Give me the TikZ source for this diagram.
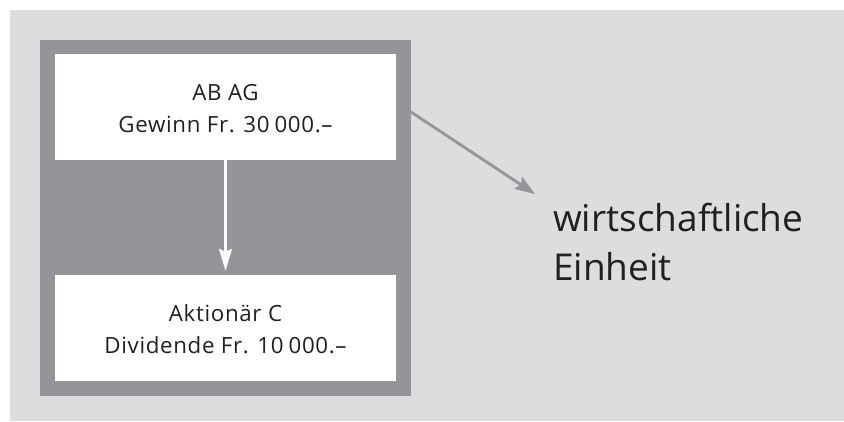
\documentclass[tikz,border=0pt]{standalone}
\usepackage{fontspec}
\setmainfont{Open Sans}
\newfontfamily\boxfont[LetterSpace=3]{Open Sans}
\usetikzlibrary{arrows.meta}
\definecolor{bglight}{HTML}{DCDDDF}
\definecolor{framegray}{HTML}{939598}
\definecolor{txt}{HTML}{231F20}
\newcommand{\thinsep}{\hspace{0.22em}}
\tikzset{
  whitebox/.style={fill=white, draw=none, minimum width=341pt, minimum height=106pt, inner sep=0pt, align=center, text=txt,
    text height=50.5pt, text depth=0pt,
    font=\boxfont\fontsize{22.3}{31.6}\selectfont},
  whitearrow/.style={draw=white, line width=2.2pt, -{Stealth[length=22pt,width=13pt,inset=3pt]}, shorten >=4pt},
  grayarrow/.style={draw=framegray, line width=2.8pt, -{Stealth[length=20pt,width=14pt,inset=3pt]}},
  bigtext/.style={align=left, text=txt, inner sep=0pt, font=\fontsize{37}{48.3}\selectfont}
}
\begin{document}
\begin{tikzpicture}[x=1pt,y=-1pt]
\useasboundingbox (0,0) rectangle (844,421);
\fill[bglight] (10,10) rectangle (844,421);
\node[fill=framegray, minimum width=371pt, minimum height=356pt, inner sep=0pt] (frame) at (225.5,218) {};
\node[whitebox] (top) at (225.5,107) {AB AG\\Gewinn Fr. 30\thinsep000.–};
\node[whitebox] (bottom) at (225.5,328) {Aktionär C\\Dividende Fr. 10\thinsep000.–};
\draw[whitearrow] (top.south) -- (bottom.north);
\coordinate (start) at (411,112);
\coordinate (tip) at (535,194);
\draw[grayarrow] (start) -- (tip);
\node[bigtext, anchor=base west] (unit) at (553,280) {wirtschaftliche\\Einheit};
\end{tikzpicture}
\end{document}
